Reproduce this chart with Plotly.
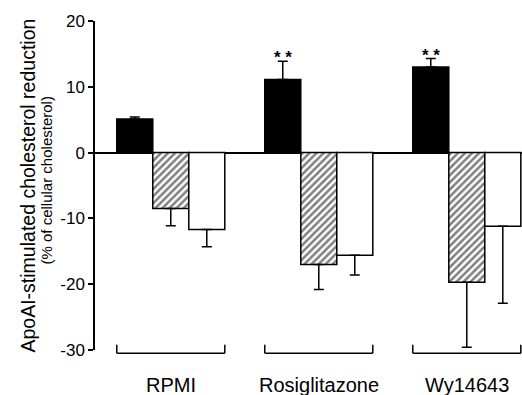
import plotly.graph_objects as go

categories = ["RPMI", "Rosiglitazone", "Wy14643"]
black_vals = [5.1, 11.1, 13.0]
black_err = [0.3, 2.8, 1.3]
hatched_vals = [-8.5, -17.0, -19.7]
hatched_err = [2.6, 3.8, 9.9]
white_vals = [-11.7, -15.6, -11.2]
white_err = [2.6, 3.0, 11.7]
star_labels = ["", "* *", "* *"]
y_ticks = [-30, -20, -10, 0, 10, 20]

FONT = "Liberation Sans, Arial, sans-serif"
LW = 1.5
BARGAP = 0.27
n_series = 3
bar_w = (1 - BARGAP) / n_series

fig = go.Figure()

def zeros(n):
    return [0] * n

fig.add_trace(go.Bar(
    x=categories, y=black_vals, name="Black",
    marker=dict(color="black", line=dict(color="black", width=LW)),
    error_y=dict(type="data", symmetric=False, array=black_err, arrayminus=zeros(3),
                 color="black", thickness=LW, width=5),
))
fig.add_trace(go.Bar(
    x=categories, y=hatched_vals, name="Hatched",
    marker=dict(color="white", line=dict(color="black", width=LW),
                pattern=dict(shape="/", fgcolor="black", bgcolor="white", size=5, solidity=0.5)),
    error_y=dict(type="data", symmetric=False, array=zeros(3), arrayminus=hatched_err,
                 color="black", thickness=LW, width=5),
))
fig.add_trace(go.Bar(
    x=categories, y=white_vals, name="White",
    marker=dict(color="white", line=dict(color="black", width=LW)),
    error_y=dict(type="data", symmetric=False, array=zeros(3), arrayminus=white_err,
                 color="black", thickness=LW, width=5),
))

annotations = []
shapes = []
for i, cat in enumerate(categories):
    if star_labels[i]:
        annotations.append(dict(
            x=i - bar_w, y=black_vals[i] + black_err[i], xref="x", yref="y",
            text="<b>" + star_labels[i] + "</b>", showarrow=False, yanchor="bottom", yshift=-8,
            font=dict(family=FONT, size=17, color="black"),
        ))
    x0 = i - (1 - BARGAP) / 2
    x1 = i + (1 - BARGAP) / 2
    yb, yt = -0.010, 0.016
    shapes.append(dict(type="line", xref="x", yref="paper", x0=x0, x1=x1, y0=yb, y1=yb,
                       line=dict(color="black", width=LW)))
    shapes.append(dict(type="line", xref="x", yref="paper", x0=x0, x1=x0, y0=yb, y1=yt,
                       line=dict(color="black", width=LW)))
    shapes.append(dict(type="line", xref="x", yref="paper", x0=x1, x1=x1, y0=yb, y1=yt,
                       line=dict(color="black", width=LW)))
    annotations.append(dict(
        x=i, y=-0.107, xref="x", yref="paper", text=cat, showarrow=False,
        yanchor="middle", xanchor="center",
        font=dict(family=FONT, size=20, color="black"),
    ))

annotations.append(dict(
    x=0, y=0.5, xref="paper", yref="paper", xshift=-68, textangle=-90,
    text="ApoAI-stimulated cholesterol reduction", showarrow=False,
    xanchor="center", yanchor="middle",
    font=dict(family=FONT, size=19.5, color="black"),
))
annotations.append(dict(
    x=0, y=0.5, xref="paper", yref="paper", xshift=-49, yshift=5, textangle=-90,
    text="(% of cellular cholesterol)", showarrow=False,
    xanchor="center", yanchor="middle",
    font=dict(family=FONT, size=15, color="black"),
))

fig.update_layout(
    width=522, height=395,
    margin=dict(l=95, r=0, t=21, b=45),
    paper_bgcolor="white", plot_bgcolor="white",
    barmode="group", bargap=BARGAP, bargroupgap=0,
    showlegend=False,
    annotations=annotations, shapes=shapes,
    font=dict(family=FONT, color="black"),
)
fig.update_xaxes(type="category", range=[-0.512, 2.373], showticklabels=False,
                 showline=False, showgrid=False, zeroline=False, ticks="")
fig.update_yaxes(range=[-30, 20], tickvals=y_ticks, ticktext=[str(v) for v in y_ticks],
                 showline=True, linecolor="black", linewidth=LW,
                 ticks="outside", ticklen=5, tickwidth=LW, tickcolor="black",
                 showgrid=False, zeroline=True, zerolinecolor="black", zerolinewidth=LW,
                 tickfont=dict(family=FONT, size=17, color="black"))

# remove the browser's default 8px body margin so the figure fills the window
fig.write_html("out.html", config={"displayModeBar": False},
               post_script="document.body.style.margin='0';document.body.style.overflow='hidden';")
